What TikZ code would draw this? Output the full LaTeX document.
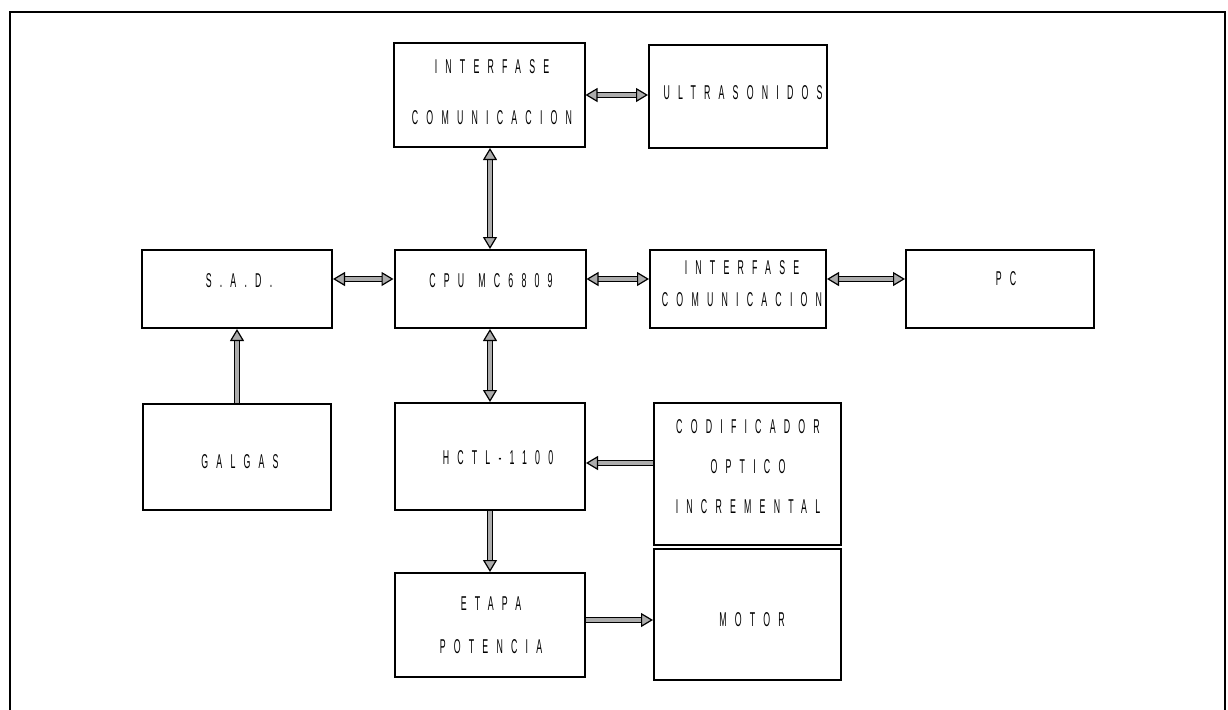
\documentclass[tikz,border=0pt]{standalone}
\usepackage{fontspec}
\newfontfamily\lab[FakeStretch=0.44,LetterSpace=41]{Liberation Sans}
\usetikzlibrary{arrows.meta}
\begin{document}
\begin{tikzpicture}[x=0.5pt,y=-0.5pt,
  box/.style={draw=black,line width=1pt,rectangle,inner sep=0pt},
  lbl/.style={inner sep=0pt,align=center,font=\lab\fontsize{10}{#1}\selectfont},
  lbl/.default=12,
  arr/.style={line width=0.6pt,draw=black,double=gray!65,double distance=1.8pt,arrows={-Triangle[length=6pt,width=7pt,fill=gray!65,line width=0.6pt]}},
  arrb/.style={line width=0.6pt,draw=black,double=gray!65,double distance=1.8pt,arrows={Triangle[length=6pt,width=7pt,fill=gray!65,line width=0.6pt]-Triangle[length=6pt,width=7pt,fill=gray!65,line width=0.6pt]}}]
\useasboundingbox (0,0) rectangle (1228,709);
\clip (0,0) rectangle (1228,709);
\draw[line width=1pt] (10,740) -- (10,12) -- (1225,12) -- (1225,740);
% boxes
\node[box,minimum width=95.5pt,minimum height=52pt] (if1) at (489,95) {};
\node[box,minimum width=89pt,minimum height=51.5pt] (ultra) at (738,96.5) {};
\node[box,minimum width=95pt,minimum height=39pt] (sad) at (237,289) {};
\node[box,minimum width=95.5pt,minimum height=39pt] (cpu) at (490,289) {};
\node[box,minimum width=88pt,minimum height=39pt] (if2) at (738,289) {};
\node[box,minimum width=94pt,minimum height=39pt] (pc) at (1000,289) {};
\node[box,minimum width=94pt,minimum height=53pt] (galgas) at (237,457) {};
\node[box,minimum width=95pt,minimum height=53.5pt] (hctl) at (490,456.5) {};
\node[box,minimum width=93.5pt,minimum height=71pt] (codif) at (747.5,474) {};
\node[box,minimum width=93.5pt,minimum height=65.5pt] (motor) at (747.5,614.5) {};
\node[box,minimum width=95pt,minimum height=52pt] (etapa) at (490,625) {};
% labels
\node[lbl=25.5] (if1t) at (492,92.5) {INTERFASE\\COMUNICACION};
\node[lbl] (ultrat) at (743,93) {ULTRASONIDOS};
\node[lbl] (sadt) at (239,281) {S.A.D.};
\node[lbl] (cput) at (491,281) {CPU\hspace{7pt}MC6809};
\node[lbl=16] (if2t) at (742,284) {INTERFASE\\COMUNICACION};
\node[lbl] (pct) at (1006,279) {PC};
\node[lbl] (galgast) at (240,462) {GALGAS};
\node[lbl] (hctlt) at (498,458) {HCTL-1100};
\node[lbl=20] (codift) at (748,467) {CODIFICADOR\\OPTICO\\INCREMENTAL};
\node[lbl=21.5] (etapat) at (491,625.5) {ETAPA\\POTENCIA};
\node[lbl] (motort) at (752,620) {MOTOR};
% connectors
\draw[arrb] (if1.east |- 0,95) -- (ultra.west |- 0,95);
\draw[arrb] (cpu.north) -- (cpu.north |- if1.south);
\draw[arrb] (sad.east |- 0,279) -- (cpu.west |- 0,279);
\draw[arrb] (cpu.east |- 0,279) -- (if2.west |- 0,279);
\draw[arrb] (if2.east |- 0,279) -- (pc.west |- 0,279);
\draw[arr] (galgas.north) -- (sad.south);
\draw[arrb] (cpu.south) -- (hctl.north);
\draw[arr] (codif.west |- 0,463) -- (hctl.east |- 0,463);
\draw[arr] (hctl.south) -- (etapa.north);
\draw[arr] (etapa.east |- 0,620) -- (motor.west |- 0,620);
\end{tikzpicture}
\end{document}
